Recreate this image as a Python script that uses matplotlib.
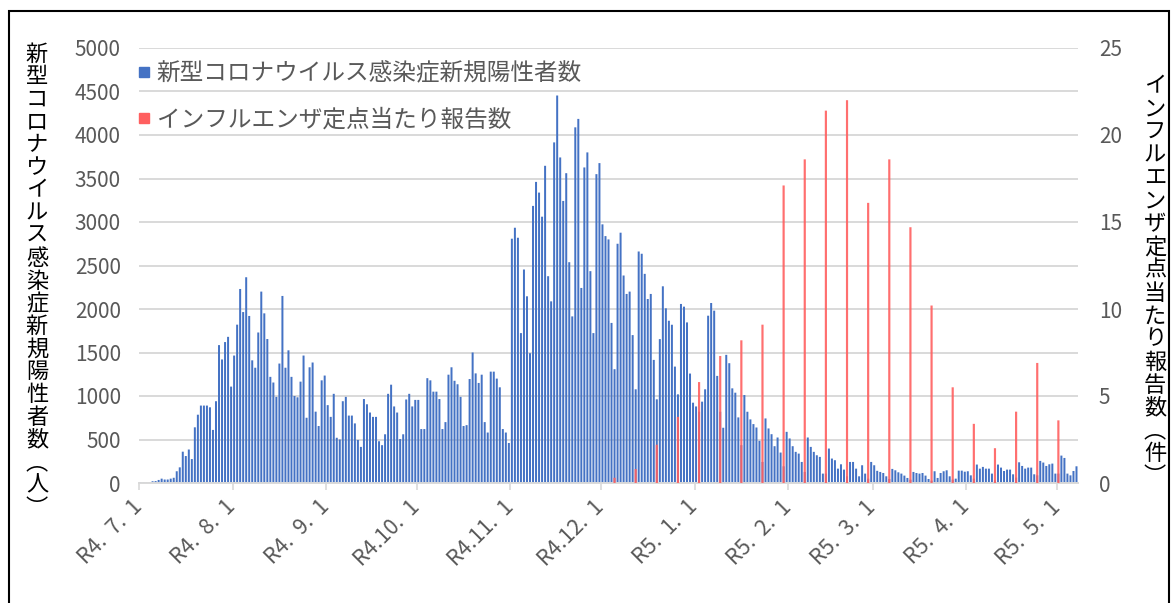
import matplotlib
matplotlib.use("Agg")
import matplotlib.pyplot as plt
from matplotlib.lines import Line2D
from matplotlib.patches import Rectangle
import numpy as np
import pandas as pd

plt.rcParams['font.family'] = ['Noto Sans CJK JP', 'DejaVu Sans']

# daily new COVID-19 cases by month (R4.7.1 - R5.5.7)
covid_2022_07 = [10, 8, 5, 5, 20, 22, 35, 50, 40, 40, 50, 60, 135, 180, 360, 310,
                 385, 275, 640, 785, 890, 890, 890, 870, 610, 940, 1585, 1420,
                 1620, 1680, 1108]
covid_2022_08 = [1465, 1820, 2230, 1965, 2365, 1920, 1410, 1325, 1730, 2200, 1950,
                 1655, 1220, 1155, 990, 1373, 2150, 1325, 1525, 1220, 1000, 985,
                 1165, 1465, 750, 1330, 1385, 820, 655, 1180, 1235]
covid_2022_09 = [895, 760, 1025, 520, 500, 940, 990, 775, 775, 685, 495, 415, 965,
                 905, 810, 760, 760, 480, 435, 560, 1025, 1130, 880, 810, 505, 560,
                 960, 1025, 880, 955]
covid_2022_10 = [955, 620, 620, 1205, 1180, 1050, 1050, 965, 620, 700, 1245, 1330,
                 1175, 1135, 990, 655, 665, 1195, 1500, 1260, 1150, 1245, 700, 580,
                 1280, 1280, 1200, 1100, 620, 580, 460]
covid_2022_11 = [2808, 2934, 2819, 1723, 2454, 2146, 1492, 3185, 3461, 3338, 3061,
                 3646, 2377, 2088, 3915, 4454, 3742, 3242, 3561, 2538, 1915, 4088,
                 4185, 2242, 3627, 3800, 2435, 1723, 3550, 3677]
covid_2022_12 = [2973, 2838, 2800, 1840, 1308, 2750, 2877, 2385, 2173, 2200, 1700,
                 1077, 2661, 2635, 2404, 2115, 2173, 1415, 962, 1654, 2261, 2008,
                 1865, 1819, 1338, 1019, 2058, 2027, 1846, 1258, 923]
covid_2023_01 = [880, 819, 935, 1077, 1923, 2069, 1981, 1231, 819, 635, 1473, 1377,
                 1088, 1038, 754, 435, 1011, 819, 731, 677, 638, 485, 242, 742, 627,
                 561, 423, 523, 350, 192, 588]
covid_2023_02 = [512, 423, 358, 338, 242, 127, 523, 415, 358, 319, 300, 108, 108,
                 396, 281, 262, 165, 215, 154, 77, 242, 242, 165, 77, 204, 108, 50,
                 242]
covid_2023_03 = [204, 140, 127, 115, 77, 46, 162, 146, 123, 108, 85, 58, 38, 127,
                 115, 108, 115, 85, 46, 27, 135, 58, 115, 135, 146, 77, 38, 50, 142,
                 142, 130]
covid_2023_04 = [135, 88, 50, 212, 165, 185, 165, 165, 108, 31, 212, 177, 138, 154,
                 154, 100, 62, 238, 196, 165, 177, 177, 100, 88, 254, 235, 196, 215,
                 223, 108]
covid_2023_05 = [108, 315, 288, 108, 88, 138, 192]

# influenza reports per sentinel site (weekly, Mondays from 2022-12-05)
flu_start = "2022-12-05"
flu_values = [0.3, 0.8, 2.2, 3.8, 5.8, 7.3, 8.2, 9.1, 17.1, 18.6, 21.4, 22.0,
              16.1, 18.6, 14.7, 10.2, 5.5, 3.4, 2.0, 4.1, 6.9, 3.6]

month_ticks = ["2022-07-01", "2022-08-01", "2022-09-01", "2022-10-01", "2022-11-01",
               "2022-12-01", "2023-01-01", "2023-02-01", "2023-03-01", "2023-04-01",
               "2023-05-01"]
month_labels = ["R4.  7.  1", "R4.  8.  1", "R4.  9.  1", "R4.10.  1", "R4.11.  1",
                "R4.12.  1", "R5.  1.  1", "R5.  2.  1", "R5.  3.  1", "R5.  4.  1",
                "R5.  5.  1"]

covid_label = "新型コロナウイルス感染症新規陽性者数"
flu_label = "インフルエンザ定点当たり報告数"
left_title = "新型コロナウイルス感染症新規陽性者数︵人︶"
right_title = "インフルエンザ定点当たり報告数︵件︶"

BLUE = "#4472C4"
RED = "#FF5F5F"
GRID = "#D9D9D9"
TICK = "#595959"

covid = (covid_2022_07 + covid_2022_08 + covid_2022_09 + covid_2022_10 + covid_2022_11
         + covid_2022_12 + covid_2023_01 + covid_2023_02 + covid_2023_03
         + covid_2023_04 + covid_2023_05)
start = pd.Timestamp("2022-07-01")
x = np.arange(len(covid))
flu_dates = pd.date_range(flu_start, periods=len(flu_values), freq="7D")
flu_x = (flu_dates - start).days.values
tick_x = (pd.to_datetime(month_ticks) - start).days.values - 0.5

W, H = 1171, 603
fig = plt.figure(figsize=(W / 100, H / 100), dpi=100)
ax = fig.add_axes([139 / W, 1 - 483 / H, (1078 - 139) / W, 435 / H])
ax.bar(x, covid, width=0.66, color=BLUE, lw=0, snap=False, zorder=2)
ax.set_xlim(-0.5, len(covid) - 0.5)
ax.set_ylim(0, 5000)
ax.set_yticks(np.arange(0, 5001, 500))
ax.grid(axis="y", color=GRID, lw=1.4, zorder=0)
ax.set_axisbelow(True)
for s in ["top", "right", "left"]:
    ax.spines[s].set_visible(False)
ax.spines["bottom"].set_color(GRID)
ax.spines["bottom"].set_linewidth(1.4)
ax.set_xticks(tick_x)
ax.set_xticklabels(month_labels, rotation=45, ha="right", va="center",
                   rotation_mode="anchor", color=TICK, fontsize=15.5)
ax.tick_params(axis="x", length=5, width=1.2, color=GRID, pad=10)
ax.tick_params(axis="y", length=0, pad=13, labelcolor=TICK, labelsize=15)

ax2 = ax.twinx()
ax2.bar(flu_x, flu_values, width=0.72, color=RED, alpha=0.9, lw=0, snap=False,
        zorder=3)
ax2.set_ylim(0, 25)
ax2.set_yticks(np.arange(0, 26, 5))
ax2.tick_params(axis="y", length=0, pad=15, labelcolor=TICK, labelsize=15)
for s in ["top", "right", "left", "bottom"]:
    ax2.spines[s].set_visible(False)

handles = [Line2D([], [], ls="none", marker="s", ms=6.5, color=BLUE),
           Line2D([], [], ls="none", marker="s", ms=6.5, color=RED)]
leg = fig.legend(handles, [covid_label, flu_label], loc="upper left",
                 bbox_to_anchor=(139 / W, 1 - 62 / H), frameon=False,
                 fontsize=17, handlelength=0.45, handletextpad=0.3,
                 labelspacing=1.0, borderpad=0, borderaxespad=0)
for t in leg.get_texts():
    t.set_color(TICK)


# vertical axis titles, one character per line
def vertical_title(text, xc, y0, step):
    for i, ch in enumerate(text):
        fig.text(xc / W, 1 - (y0 + i * step) / H, ch, ha="center", va="center",
                 fontsize=16, color="black")


vertical_title(left_title, 37, 54, 22.7)
vertical_title(right_title, 1155, 86, 23.0)

fig.add_artist(Rectangle((9 / W, -0.05), (1169 - 9) / W, 0.05 + 1 - 11 / H,
                         transform=fig.transFigure, fill=False, ec="black", lw=1.5))

fig.savefig("out.png", dpi=100)
